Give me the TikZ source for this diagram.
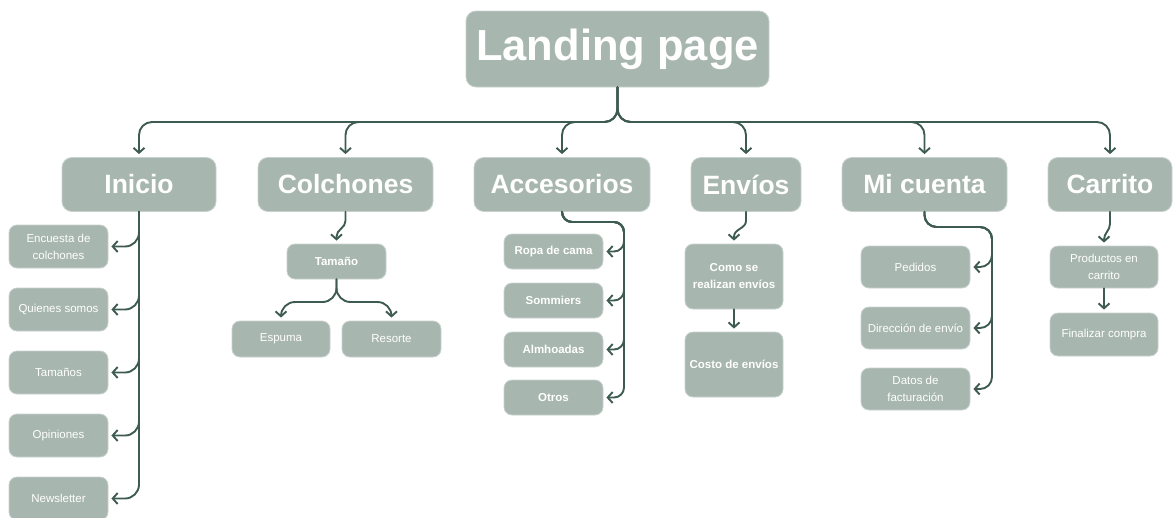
\documentclass[tikz,border=0pt]{standalone}
\usepackage{fontspec}
\setmainfont{Liberation Sans}
\usetikzlibrary{arrows.meta,calc}
\definecolor{boxfill}{HTML}{A8B6B0}
\definecolor{boxedge}{HTML}{C8D1CD}
\definecolor{linkcol}{HTML}{3E5B52}
\tikzset{
  box/.style={rounded corners=10, fill=boxfill, draw=boxedge, line width=0.8,
    text=white, inner sep=0, align=center},
  topbox/.style={box, minimum height=54, font=\fontsize{26.5}{30}\selectfont\bfseries},
  leaf/.style={box, rounded corners=8, font=\fontsize{11.5}{17}\selectfont},
  leafbold/.style={leaf, font=\fontsize{11.5}{17}\selectfont\bfseries},
  conn/.style={draw=linkcol, line width=1.9, line cap=round, line join=round,
    -{Straight Barb[length=5pt,width=11pt,line width=1.9]}, shorten >=3pt},
}
\begin{document}
\begin{tikzpicture}[x=1pt,y=-1pt]
\useasboundingbox (0,0) rectangle (1173,517);

% root
\node[box, minimum width=303, minimum height=76,
  font=\fontsize{43.5}{50}\selectfont\bfseries] (lp) at (617.5,49) {Landing page};

% first level
\node[topbox, minimum width=154] (inicio) at (139,184.5) {Inicio};
\node[topbox, minimum width=175] (colch) at (345.5,184.5) {Colchones};
\node[topbox, minimum width=176] (acc) at (562,184.5) {Accesorios};
\node[topbox, minimum width=110] (env) at (746,184.5) {Envíos};
\node[topbox, minimum width=165] (micta) at (924.5,184.5) {Mi cuenta};
\node[topbox, minimum width=124] (carr) at (1110,184.5) {Carrito};

% Inicio
\node[leaf, minimum width=99, minimum height=43] (enc) at (58.5,246.5) {Encuesta de\\colchones};
\node[leaf, minimum width=99, minimum height=43] (quien) at (58.5,309.5) {Quienes somos};
\node[leaf, minimum width=99, minimum height=43] (tams) at (58.5,372.5) {Tamaños};
\node[leaf, minimum width=99, minimum height=43] (opin) at (58.5,435.5) {Opiniones};
\node[leaf, minimum width=99, minimum height=43] (news) at (58.5,498.5) {Newsletter};

% Colchones
\node[leafbold, minimum width=99, minimum height=35] (tam) at (336.5,261.5) {Tamaño};
\node[leaf, minimum width=98, minimum height=36] (esp) at (281,339) {Espuma};
\node[leaf, minimum width=99, minimum height=36] (res) at (391.5,339) {Resorte};

% Accesorios
\node[leafbold, minimum width=99, minimum height=35] (ropa) at (553.5,251.5) {Ropa de cama};
\node[leafbold, minimum width=99, minimum height=35] (somm) at (553.5,300.5) {Sommiers};
\node[leafbold, minimum width=99, minimum height=35] (almh) at (553.5,349.5) {Almhoadas};
\node[leafbold, minimum width=99, minimum height=35] (otros) at (553.5,397.5) {Otros};

% Envios
\node[leafbold, minimum width=98, minimum height=65] (como) at (734,276.5) {Como se\\realizan envíos};
\node[leafbold, minimum width=98, minimum height=65] (costo) at (734,364.5) {Costo de envíos};

% Mi cuenta
\node[leaf, minimum width=109, minimum height=42] (ped) at (915.5,267) {Pedidos};
\node[leaf, minimum width=109, minimum height=42] (dir) at (915.5,328) {Dirección de envío};
\node[leaf, minimum width=109, minimum height=42] (datos) at (915.5,389) {Datos de\\facturación};

% Carrito
\node[leaf, minimum width=108, minimum height=42] (prod) at (1104,267) {Productos en\\carrito};
\node[leaf, minimum width=108, minimum height=43] (fin) at (1104,334.5) {Finalizar compra};

% helper points for the shared bars and trunks
\coordinate (hbar) at (0,122);
\coordinate (tsplit) at (0,302);
\coordinate (atrunk) at (624,222);
\coordinate (mtrunk) at (992,227);

% root to first level
\foreach \n in {inicio,colch,acc,env,micta,carr}
  \draw[conn, rounded corners=13] (lp.south) -- (lp.south |- hbar) -- (\n.north |- hbar) -- (\n.north);

% Inicio trunk
\foreach \n in {enc,quien,tams,opin,news}
  \draw[conn, rounded corners=14] (inicio.south) |- (\n.east);

% Colchones
\draw[conn] (colch.south) -- ++(0,9) to[out=-90,in=90] ($(tam.north)+(0,-7)$) -- (tam.north);
\foreach \n in {esp,res}
  \draw[conn, rounded corners=14] (tam.south) -- (tam.south |- tsplit) -- (\n.north |- tsplit) -- (\n.north);

% Accesorios trunk
\foreach \n in {ropa,somm,almh,otros}
  \draw[conn, rounded corners=10] (acc.south) |- (atrunk) |- (\n.east);

% Envios
\draw[conn] (env.south) -- ++(0,9) to[out=-90,in=90] ($(como.north)+(0,-7)$) -- (como.north);
\draw[conn] (como.south) -- (costo.north);

% Mi cuenta trunk
\foreach \n in {ped,dir,datos}
  \draw[conn, rounded corners=12] (micta.south) |- (mtrunk) |- (\n.east);

% Carrito
\draw[conn] (carr.south) -- ++(0,12) to[out=-90,in=90] ($(prod.north)+(0,-6)$) -- (prod.north);
\draw[conn] (prod.south) -- (fin.north);
\end{tikzpicture}
\end{document}
